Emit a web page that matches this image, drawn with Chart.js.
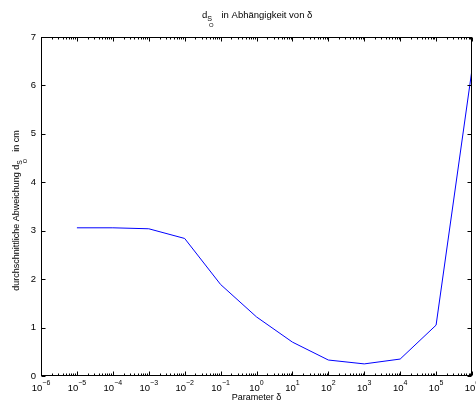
<!DOCTYPE html>
<html>
<head>
<meta charset="utf-8">
<script src="https://cdn.jsdelivr.net/npm/chart.js@4/dist/chart.umd.min.js"></script>
<style>
  html, body { margin: 0; padding: 0; background: #fff; }
  #wrap { width: 476px; height: 403px; }
</style>
</head>
<body>
<div id="wrap"><canvas id="c" width="476" height="403"></canvas></div>
<script>
// values
const deltas = [1e-5, 1e-4, 1e-3, 1e-2, 1e-1, 1e0, 1e1, 1e2, 1e3, 1e4, 1e5, 1e6];
const dso = [3.06, 3.06, 3.04, 2.84, 1.89, 1.22, 0.70, 0.33, 0.25, 0.35, 1.05, 6.33];

const xExponents = [-6, -5, -4, -3, -2, -1, 0, 1, 2, 3, 4, 5, 6];
const yTicks = [0, 1, 2, 3, 4, 5, 6, 7];

const FONT = 'Liberation Sans, Arial, Helvetica, sans-serif';

// d with nested subscripts S and O, returns the width used
function drawDso(ctx, x, y, size) {
  ctx.font = size + 'px ' + FONT;
  ctx.fillText('d', x, y);
  const wd = ctx.measureText('d').width;
  ctx.font = (size * 0.75) + 'px ' + FONT;
  ctx.fillText('S', x + wd, y + size * 0.35);
  const ws = ctx.measureText('S').width;
  ctx.font = (size * 0.62) + 'px ' + FONT;
  const ox = x + wd + ws * 0.35;
  ctx.fillText('O', ox, y + size * 0.9);
  const wo = ctx.measureText('O').width;
  return Math.max(wd + ws, ox - x + wo);
}

const matlabAxes = {
  id: 'matlabAxes',
  afterDraw(chart) {
    const ctx = chart.ctx;
    const a = chart.chartArea;
    const xs = chart.scales.x, ys = chart.scales.y;
    const L = Math.round(a.left) + 0.5, R = Math.round(a.right) - 0.5;
    const T = Math.round(a.top) + 0.5, B = Math.round(a.bottom) - 0.5;
    ctx.save();
    ctx.strokeStyle = '#000';
    ctx.fillStyle = '#000';
    ctx.lineWidth = 1;
    ctx.strokeRect(L, T, R - L, B - T);

    // x ticks (log, major + minor), inward on top and bottom
    ctx.beginPath();
    xExponents.forEach((e, i) => {
      for (let m = 1; m <= 9; m++) {
        if (i === xExponents.length - 1 && m > 1) break;
        const v = m * Math.pow(10, e);
        const px = Math.round(xs.getPixelForValue(v)) + 0.5;
        const len = m === 1 ? 4 : 2;
        ctx.moveTo(px, B); ctx.lineTo(px, B - len);
        ctx.moveTo(px, T); ctx.lineTo(px, T + len);
      }
    });
    // y ticks, inward on left and right
    yTicks.forEach(v => {
      const py = Math.round(ys.getPixelForValue(v)) + 0.5;
      ctx.moveTo(L, py); ctx.lineTo(L + 4, py);
      ctx.moveTo(R, py); ctx.lineTo(R - 4, py);
    });
    ctx.stroke();

    // x tick labels 10^e
    ctx.textBaseline = 'alphabetic';
    ctx.textAlign = 'left';
    xExponents.forEach(e => {
      const px = xs.getPixelForValue(Math.pow(10, e));
      ctx.font = '9.5px ' + FONT;
      const wb = ctx.measureText('10').width;
      ctx.font = '7px ' + FONT;
      const es = String(e).replace('-', '\u2212');
      const we = ctx.measureText(es).width;
      const x0 = px - (wb + we) / 2;
      ctx.font = '9.5px ' + FONT;
      ctx.fillText('10', x0, 391);
      ctx.font = '7px ' + FONT;
      ctx.fillText(es, x0 + wb, 385);
    });

    // y tick labels
    ctx.font = '9.5px ' + FONT;
    ctx.textAlign = 'right';
    ctx.textBaseline = 'middle';
    yTicks.forEach(v => {
      ctx.fillText(String(v), a.left - 5, ys.getPixelForValue(v));
    });

    // x axis title
    ctx.textAlign = 'center';
    ctx.textBaseline = 'alphabetic';
    ctx.font = '9px ' + FONT;
    ctx.fillText('Parameter \u03b4', (a.left + a.right) / 2, 400);

    // chart title
    ctx.textAlign = 'left';
    const tSize = 9.5;
    ctx.font = tSize + 'px ' + FONT;
    const rest = 'in Abh\u00e4ngigkeit von \u03b4';
    const wr = ctx.measureText(rest).width;
    const gap = 8;
    const x0 = 202;
    const wd = drawDso(ctx, x0, 18, tSize);
    ctx.font = tSize + 'px ' + FONT;
    ctx.fillText(rest, x0 + wd + gap, 18);

    // y axis title (rotated)
    ctx.translate(19, (a.top + a.bottom) / 2 + 2);
    ctx.rotate(-Math.PI / 2);
    const ySize = 9;
    ctx.font = ySize + 'px ' + FONT;
    const p1 = 'durchschnittliche Abweichung ';
    const p2 = 'in cm';
    const w1 = ctx.measureText(p1).width, w2 = ctx.measureText(p2).width;
    const sx = -(w1 + w2 + 22) / 2;
    ctx.fillText(p1, sx, 0);
    const wdy = drawDso(ctx, sx + w1, 0, ySize);
    ctx.font = ySize + 'px ' + FONT;
    ctx.fillText(p2, sx + w1 + wdy + 7, 0);
    ctx.restore();
  }
};

new Chart(document.getElementById('c'), {
  type: 'line',
  data: {
    datasets: [{
      data: deltas.map((d, i) => ({ x: d, y: dso[i] })),
      borderColor: '#0000ff',
      borderWidth: 1,
      pointRadius: 0,
      tension: 0,
      fill: false
    }]
  },
  options: {
    responsive: false,
    animation: false,
    layout: { padding: { left: 41, right: 4, top: 37, bottom: 27 } },
    plugins: { legend: { display: false }, tooltip: { enabled: false } },
    scales: {
      x: { type: 'logarithmic', min: 1e-6, max: 1e6, display: false },
      y: { type: 'linear', min: 0, max: 7, display: false }
    }
  },
  plugins: [matlabAxes]
});
</script>
</body>
</html>
